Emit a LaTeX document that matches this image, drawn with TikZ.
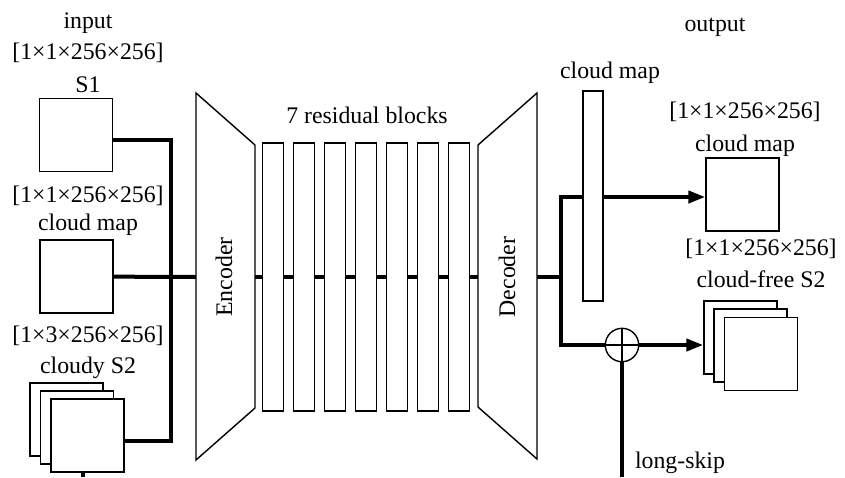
\documentclass[tikz,border=0pt]{standalone}
\usepackage{fontspec}
\setmainfont{Liberation Serif}
\usetikzlibrary{arrows.meta, positioning}

\begin{document}
\begin{tikzpicture}[
    x=0.5pt, y=-0.5pt,
    img/.style={draw, line width=0.7pt, fill=white, inner sep=0pt, minimum width=36.5pt, minimum height=36.5pt},
    blk/.style={draw, line width=0.7pt, fill=white, inner sep=0pt, minimum width=10.3pt, minimum height=134pt},
    lbl/.style={font=\fontsize{11.9}{14}\selectfont, inner sep=0pt},
    net/.style={draw, line width=0.7pt, line join=miter},
    conn/.style={line width=2pt},
    flow/.style={conn, -{Triangle[length=8.5pt, width=6pt]}}
]
\useasboundingbox (0,0) rectangle (845,477);

% inputs
\node[lbl] (inTitle) at (88,23)  {input};
\node[lbl] (s1Size)  at (88,53)  {[1×1×256×256]};
\node[lbl] (s1Name)  at (88,85)  {S1};
\node[img] (s1)      at (76,135) {};
\node[lbl] (cmSize)  at (88,196) {[1×1×256×256]};
\node[lbl] (cmName)  at (88,225) {cloud map};
\node[img] (cm)      at (76.5,276.5) {};
\node[lbl] (s2Size)  at (88,336) {[1×3×256×256]};
\node[lbl] (s2Name)  at (88,368) {cloudy S2};
\node[img] (s2back)  at (66.5,419.5) {};
\node[img] (s2mid)   at (77,427.5)   {};
\node[img] (s2front) at (87.5,435.5) {};

\coordinate (busTop) at (171,140);
\coordinate (busBot) at (171,441);
\coordinate (s2tail) at (83,477);
\coordinate (encIn)  at (196,277);
\coordinate (encOut) at (255,277);
\coordinate (decIn)  at (478,277);
\coordinate (decOut) at (537,277);

\draw[conn] (s1.east |- busTop) -- (busTop) -- (busBot) -- (s2front.east |- busBot);
\draw[conn] (cm) -- (encIn);
\draw[conn] (s2front.south -| s2tail) -- (s2tail);

% encoder, residual blocks, decoder
\draw[net] (196,93) -- (255,145) -- (255,408) -- (196,460) -- cycle;
\node[lbl, rotate=90] (enc) at (224,277) {Encoder};

\node[lbl] (rbTitle) at (367,115) {7 residual blocks};
\foreach \i in {1,...,7}
    \node[blk] (rb\i) at ({273+31*(\i-1)},277) {};
\foreach \i [count=\j from 2] in {1,...,6}
    \draw[conn] (rb\i) -- (rb\j);
\draw[conn] (encOut) -- (rb1);
\draw[conn] (rb7) -- (decIn);

\draw[net] (478,145) -- (537,93) -- (537,459) -- (478,407) -- cycle;
\node[lbl, rotate=90] (dec) at (507,277) {Decoder};

% outputs
\node[lbl] (outTitle) at (715,27)  {output};
\node[lbl] (barName)  at (610,73)  {cloud map};
\node[lbl] (ocmSize)  at (745,112) {[1×1×256×256]};
\node[lbl] (ocmName)  at (745,146) {cloud map};
\node[img] (ocm)      at (742.5,194.5) {};
\node[lbl] (cfSize)   at (761,249) {[1×1×256×256]};
\node[lbl] (cfName)   at (761,279) {cloud-free S2};
\node[img] (cfback)   at (740.5,337.5) {};
\node[img] (cfmid)    at (750.5,345.5) {};
\node[img] (cffront)  at (761,354)     {};

\coordinate (split)   at (561,277);
\coordinate (upTurn)  at (561,197);
\coordinate (dnTurn)  at (561,345);
\coordinate (skipEnd) at (622,477);

\node[draw, circle, line width=0.7pt, inner sep=0pt, minimum size=16.7pt] (plus) at (622,345) {};
\draw[line width=0.7pt] (plus.north) -- (plus.south) (plus.west) -- (plus.east);

\draw[conn] (decOut) -- (split);
\draw[flow] (split) -- (upTurn) -- (ocm.west |- upTurn);
\draw[conn] (split) -- (dnTurn) -- (plus);
\draw[flow] (plus) -- (cfback.west |- plus);
\draw[conn] (skipEnd) -- (plus);

\node[draw, line width=0.7pt, fill=white, inner sep=0pt, minimum width=10pt, minimum height=105pt] (bar) at (593,196) {};

\node[lbl] (skipName) at (680,463) {long-skip};
\end{tikzpicture}
\end{document}
